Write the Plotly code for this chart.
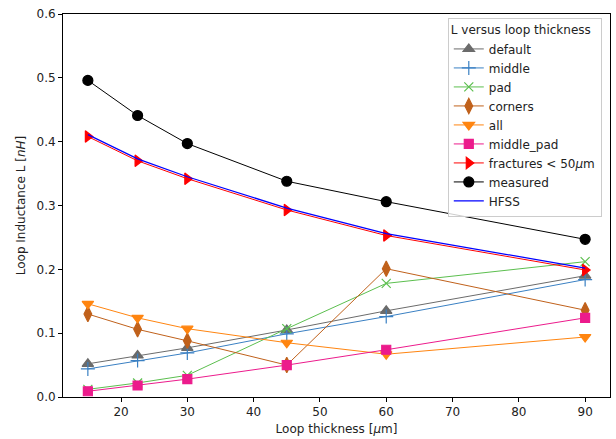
import plotly.graph_objects as go

thickness = [15, 22.5, 30, 45, 60, 90]
default = [0.052, 0.065, 0.077, 0.105, 0.135, 0.190]
middle = [0.044, 0.057, 0.069, 0.099, 0.126, 0.184]
pad = [0.012, 0.022, 0.034, 0.107, 0.178, 0.212]
corners = [0.130, 0.106, 0.088, 0.050, 0.201, 0.136]
all_ = [0.146, 0.124, 0.107, 0.085, 0.067, 0.094]
middle_pad = [0.009, 0.018, 0.028, 0.050, 0.074, 0.124]
fractures = [0.408, 0.370, 0.342, 0.293, 0.253, 0.199]
measured = [0.496, 0.441, 0.397, 0.338, 0.306, 0.247]
hfss = [0.411, 0.373, 0.345, 0.296, 0.256, 0.202]

series = [
    ("default", default, "#6b6b6b", "triangle-up", 10),
    ("middle", middle, "#3a80c3", "cross-thin", 10),
    ("pad", pad, "#5cbf4f", "x-thin", 9),
    ("corners", corners, "#c0611b", "diamond-tall", 11),
    ("all", all_, "#ff8510", "triangle-down", 10),
    ("middle_pad", middle_pad, "#ec1b8c", "square", 9),
    ("fractures &lt; 50<i>μ</i>m", fractures, "#ff0000", "triangle-right", 10),
    ("measured", measured, "#000000", "circle", 10),
]

fig = go.Figure()
for name, vals, color, sym, size in series:
    fig.add_trace(go.Scatter(
        x=thickness, y=vals, name=name, mode="lines+markers",
        line=dict(color=color, width=1),
        marker=dict(symbol=sym, size=size, color=color,
                    line=dict(color=color, width=1.2)),
    ))
fig.add_trace(go.Scatter(x=thickness, y=hfss, name="HFSS", mode="lines",
                         line=dict(color="#0000ff", width=1.2)))

axis_common = dict(showline=True, linecolor="black", linewidth=1, mirror=True,
                   ticks="outside", ticklen=4, tickcolor="black", showgrid=False,
                   zeroline=False, tickfont=dict(size=12, color="#222"))
fig.update_layout(
    width=616, height=439,
    margin=dict(l=63, r=6, t=14, b=42),
    paper_bgcolor="white", plot_bgcolor="white",
    font=dict(family="DejaVu Sans", size=12, color="#222"),
    xaxis=dict(range=[11.25, 93.75], tickvals=[20, 30, 40, 50, 60, 70, 80, 90],
               title=dict(text="Loop thickness [<i>μ</i>m]", standoff=6, font=dict(size=12)),
               **axis_common),
    yaxis=dict(range=[0, 0.6], tickvals=[0, 0.1, 0.2, 0.3, 0.4, 0.5, 0.6],
               tickformat=".1f",
               title=dict(text="Loop Inductance L [<i>nH</i>]", standoff=8, font=dict(size=12)),
               **axis_common),
    legend=dict(x=0.985, y=0.99, xanchor="right", yanchor="top",
                bordercolor="#cccccc", borderwidth=1, bgcolor="rgba(255,255,255,0.8)",
                title=dict(text="L versus loop thickness", font=dict(size=12)),
                font=dict(size=12), tracegroupgap=0, itemwidth=30),
)
fig.write_html("out.html", config={"displayModeBar": False},
               post_script="document.body.style.margin='0px';document.body.style.overflow='hidden';")
